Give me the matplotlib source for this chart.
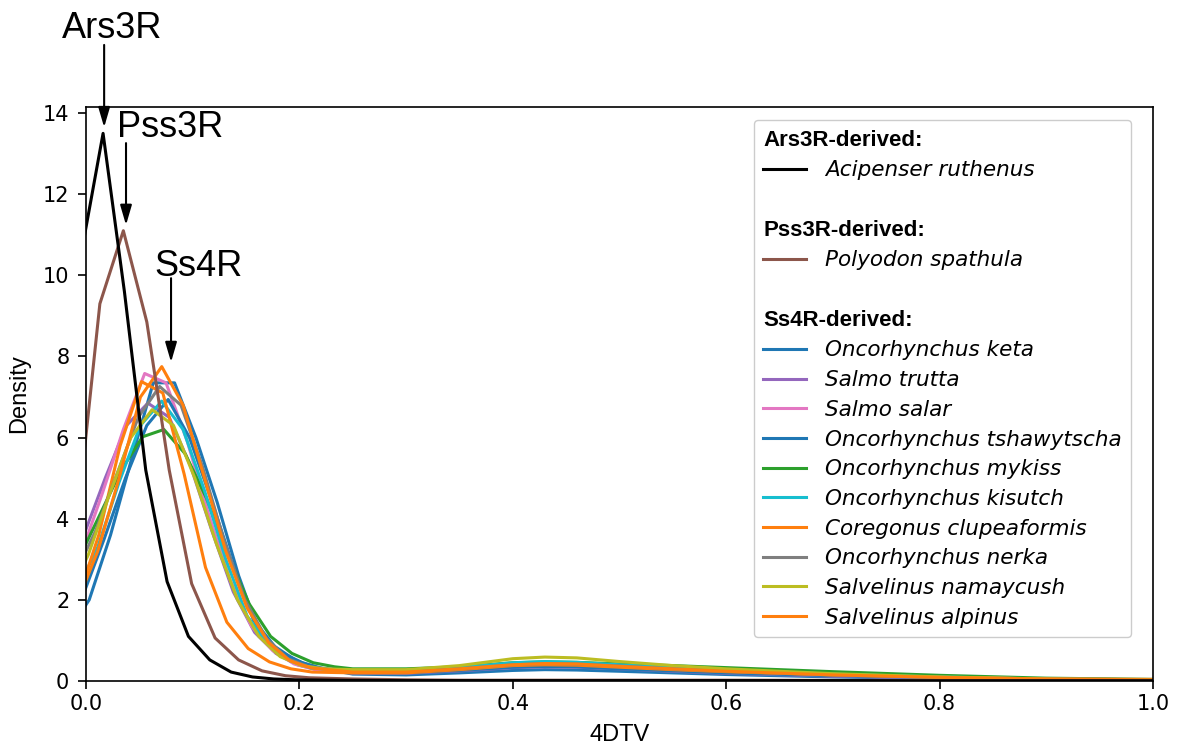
import numpy as np
import matplotlib
matplotlib.use("Agg")
import matplotlib.pyplot as plt
from matplotlib.lines import Line2D

# --- data (KDE curves of 4DTV) ---
# head part of each curve (own KDE grid), then a shared tail grid
tail_x = [0.25, 0.3, 0.35, 0.4, 0.43, 0.46, 0.5, 0.55, 0.6, 0.7, 0.8, 0.9, 1.0]

ruthenus_x = [-0.004, 0.016, 0.036, 0.056, 0.076, 0.096, 0.116, 0.136, 0.156, 0.176, 0.196]
ruthenus_y = [10.6, 13.5, 9.6, 5.2, 2.45, 1.1, 0.52, 0.22, 0.1, 0.05, 0.03]
ruthenus_tail = [0.015, 0.01, 0.01, 0.01, 0.01, 0.01, 0.01, 0.01, 0.01, 0.01, 0.005, 0.005, 0.005]

spathula_x = [-0.009, 0.013, 0.035, 0.057, 0.078, 0.099, 0.121, 0.143, 0.165, 0.187, 0.209]
spathula_y = [3.8, 9.3, 11.1, 8.85, 5.2, 2.4, 1.06, 0.52, 0.25, 0.13, 0.08]
spathula_tail = [0.05, 0.03, 0.02, 0.02, 0.02, 0.02, 0.02, 0.02, 0.02, 0.015, 0.01, 0.01, 0.01]

keta_x = [-0.017, 0.003, 0.023, 0.043, 0.063, 0.083, 0.103, 0.123, 0.143, 0.163, 0.183, 0.203, 0.223]
keta_y = [1.2, 2.0, 3.6, 5.5, 7.35, 7.35, 6.0, 4.4, 2.6, 1.15, 0.7, 0.45, 0.3]
keta_tail = [0.17, 0.15, 0.2, 0.26, 0.28, 0.27, 0.24, 0.2, 0.16, 0.1, 0.06, 0.03, 0.02]

trutta_x = [-0.002, 0.018, 0.038, 0.058, 0.078, 0.098, 0.118, 0.138, 0.158, 0.178, 0.198, 0.218]
trutta_y = [3.6, 5.0, 6.3, 6.85, 6.5, 5.3, 3.7, 2.2, 1.2, 0.68, 0.4, 0.27]
trutta_tail = [0.2, 0.19, 0.25, 0.33, 0.35, 0.34, 0.3, 0.24, 0.19, 0.12, 0.07, 0.04, 0.02]

salar_x = [-0.005, 0.015, 0.035, 0.055, 0.075, 0.095, 0.115, 0.135, 0.155, 0.175, 0.195, 0.215]
salar_y = [3.1, 4.6, 6.2, 7.58, 7.35, 5.9, 4.1, 2.5, 1.35, 0.75, 0.42, 0.28]
salar_tail = [0.2, 0.2, 0.27, 0.36, 0.38, 0.37, 0.32, 0.26, 0.21, 0.13, 0.08, 0.04, 0.02]

tshawytscha_x = [-0.003, 0.017, 0.037, 0.057, 0.077, 0.097, 0.117, 0.137, 0.157, 0.177, 0.197, 0.217]
tshawytscha_y = [2.1, 3.5, 5.0, 6.3, 6.94, 6.0, 4.5, 2.9, 1.5, 0.85, 0.5, 0.32]
tshawytscha_tail = [0.2, 0.2, 0.26, 0.34, 0.36, 0.35, 0.3, 0.25, 0.2, 0.13, 0.08, 0.04, 0.02]

mykiss_x = [-0.007, 0.013, 0.033, 0.053, 0.073, 0.093, 0.113, 0.133, 0.153, 0.173, 0.193, 0.213, 0.233]
mykiss_y = [3.0, 4.1, 5.2, 6.02, 6.2, 5.6, 4.5, 3.1, 1.9, 1.1, 0.68, 0.45, 0.35]
mykiss_tail = [0.3, 0.3, 0.35, 0.45, 0.47, 0.46, 0.42, 0.38, 0.33, 0.23, 0.14, 0.07, 0.04]

kisutch_x = [-0.009, 0.011, 0.031, 0.051, 0.071, 0.091, 0.111, 0.131, 0.151, 0.171, 0.191, 0.211]
kisutch_y = [2.2, 3.3, 4.9, 6.3, 6.9, 6.2, 4.7, 3.0, 1.6, 0.9, 0.5, 0.32]
kisutch_tail = [0.25, 0.25, 0.33, 0.45, 0.48, 0.46, 0.4, 0.33, 0.27, 0.17, 0.1, 0.05, 0.03]

clupeaformis_x = [-0.008, 0.012, 0.032, 0.052, 0.072, 0.092, 0.112, 0.132, 0.152, 0.172, 0.192, 0.212]
clupeaformis_y = [2.0, 3.6, 5.8, 7.38, 7.1, 5.1, 2.8, 1.45, 0.8, 0.47, 0.3, 0.22]
clupeaformis_tail = [0.2, 0.2, 0.28, 0.38, 0.4, 0.39, 0.34, 0.28, 0.23, 0.15, 0.09, 0.05, 0.04]

nerka_x = [-0.011, 0.009, 0.029, 0.049, 0.069, 0.089, 0.109, 0.129, 0.149, 0.169, 0.189, 0.209]
nerka_y = [2.6, 3.7, 5.1, 6.5, 7.26, 6.8, 5.3, 3.5, 2.0, 1.05, 0.55, 0.35]
nerka_tail = [0.24, 0.23, 0.3, 0.4, 0.43, 0.42, 0.37, 0.3, 0.24, 0.15, 0.09, 0.05, 0.03]

namaycush_x = [-0.018, 0.002, 0.022, 0.042, 0.062, 0.082, 0.102, 0.122, 0.142, 0.162, 0.182, 0.202, 0.222]
namaycush_y = [2.0, 3.1, 4.6, 6.0, 6.69, 6.3, 5.0, 3.4, 2.0, 1.1, 0.6, 0.38, 0.3]
namaycush_tail = [0.28, 0.28, 0.38, 0.55, 0.59, 0.57, 0.48, 0.38, 0.3, 0.18, 0.1, 0.05, 0.03]

alpinus_x = [-0.009, 0.011, 0.031, 0.051, 0.071, 0.091, 0.111, 0.131, 0.151, 0.171, 0.191, 0.211]
alpinus_y = [1.9, 3.2, 5.0, 7.0, 7.75, 6.8, 5.0, 3.2, 1.8, 0.95, 0.5, 0.32]
alpinus_tail = [0.22, 0.22, 0.3, 0.4, 0.43, 0.42, 0.36, 0.3, 0.24, 0.15, 0.09, 0.05, 0.03]

ss4r = [
    ("Oncorhynchus keta", "#1f77b4", keta_x, keta_y, keta_tail),
    ("Salmo trutta", "#9467bd", trutta_x, trutta_y, trutta_tail),
    ("Salmo salar", "#e377c2", salar_x, salar_y, salar_tail),
    ("Oncorhynchus tshawytscha", "#1f77b4", tshawytscha_x, tshawytscha_y, tshawytscha_tail),
    ("Oncorhynchus mykiss", "#2ca02c", mykiss_x, mykiss_y, mykiss_tail),
    ("Oncorhynchus kisutch", "#17becf", kisutch_x, kisutch_y, kisutch_tail),
    ("Coregonus clupeaformis", "#ff7f0e", clupeaformis_x, clupeaformis_y, clupeaformis_tail),
    ("Oncorhynchus nerka", "#7f7f7f", nerka_x, nerka_y, nerka_tail),
    ("Salvelinus namaycush", "#bcbd22", namaycush_x, namaycush_y, namaycush_tail),
    ("Salvelinus alpinus", "#ff7f0e", alpinus_x, alpinus_y, alpinus_tail),
]

LW = 2.2
SANS = "Liberation Sans"
LEG_FS = 15.5

fig = plt.figure(figsize=(11.83, 7.46), dpi=100)
ax = fig.add_axes([86 / 1183, 1 - 681 / 746, 1067 / 1183, 574 / 746])

lines = {}
for name, color, hx, hy, ht in ss4r:
    x = np.concatenate([hx, tail_x])
    y = np.concatenate([hy, ht])
    lines[name], = ax.plot(x, y, color=color, lw=LW)

brown, = ax.plot(np.concatenate([spathula_x, tail_x]), np.concatenate([spathula_y, spathula_tail]),
                 color="#8c564b", lw=LW)
black, = ax.plot(np.concatenate([ruthenus_x, tail_x]), np.concatenate([ruthenus_y, ruthenus_tail]),
                 color="black", lw=LW)

ax.set_xlim(0, 1.0)
ax.set_ylim(0, 14.15)
ax.set_xticks([0.0, 0.2, 0.4, 0.6, 0.8, 1.0])
ax.set_yticks([0, 2, 4, 6, 8, 10, 12, 14])
ax.tick_params(labelsize=15, length=6, width=1.2)
ax.tick_params(axis="y", pad=6)
for s in ax.spines.values():
    s.set_linewidth(1.2)
ax.set_xlabel("4DTV", fontsize=17, family=SANS, labelpad=7)
ax.set_ylabel("Density", fontsize=17, family=SANS, labelpad=9)

# arrows and labels pointing at the peaks
arrow = dict(arrowstyle="-|>,head_width=0.35,head_length=1.2", color="black", lw=1.5,
             shrinkA=0, shrinkB=0)
ax.annotate("", xy=(0.017, 13.65), xytext=(0.017, 15.68), arrowprops=arrow, annotation_clip=False)
ax.annotate("", xy=(0.0375, 11.24), xytext=(0.0375, 13.26), arrowprops=arrow)
ax.annotate("", xy=(0.0797, 7.86), xytext=(0.0797, 9.93), arrowprops=arrow)
ax.text(0.0243, 15.85, "Ars3R", fontsize=26, family=SANS, ha="center", va="baseline", clip_on=False)
ax.text(0.0787, 13.41, "Pss3R", fontsize=26, family=SANS, ha="center", va="baseline")
ax.text(0.105, 9.98, "Ss4R", fontsize=26, family=SANS, ha="center", va="baseline")

# legend with group headers
blank = Line2D([], [], lw=0)
handles = [blank, black, blank, blank, brown, blank, blank] + [lines[n] for n, *_ in ss4r]
labels = ["Ars3R-derived:", "Acipenser ruthenus", " ", "Pss3R-derived:", "Polyodon spathula", " ",
          "Ss4R-derived:"] + [n for n, *_ in ss4r]
leg = ax.legend(handles, labels, loc="upper right", bbox_to_anchor=(0.9794, 0.9774),
                borderaxespad=0, handlelength=2.0, handletextpad=0.85,
                labelspacing=0.45, borderpad=0.45, fancybox=True, framealpha=1,
                edgecolor="#cccccc", prop={"style": "italic", "size": LEG_FS})
shift = (2.0 + 0.85) * LEG_FS * fig.dpi / 72
for t in leg.get_texts():
    if t.get_text().endswith("derived:"):
        t.set_fontstyle("normal")
        t.set_fontfamily(SANS)
        t.set_fontweight("bold")
        t.set_fontsize(16)
        t.set_x(-shift)

fig.savefig("out.png", dpi=100)
